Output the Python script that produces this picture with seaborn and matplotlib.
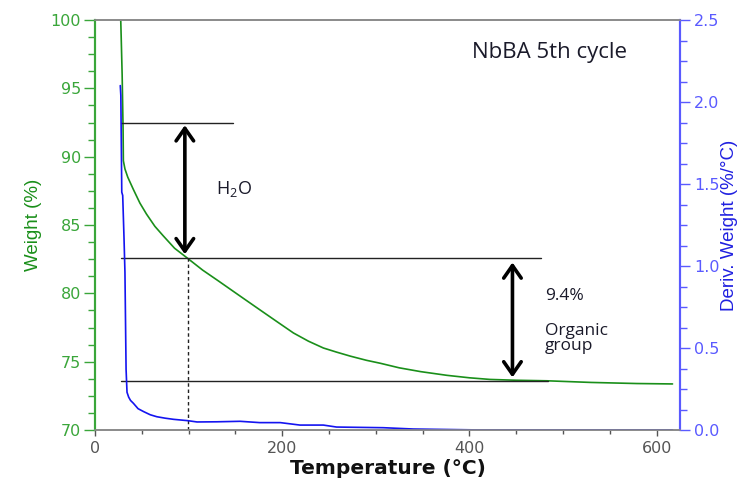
import matplotlib
matplotlib.use("Agg")
import matplotlib.pyplot as plt
from matplotlib.ticker import MultipleLocator, AutoMinorLocator, FormatStrFormatter
import seaborn as sns
import pandas as pd

# TGA curve: weight (%) vs temperature (°C)
temp_w = [27.5, 28.0, 29.0, 30.0, 30.3, 32, 35, 41, 48, 55, 64, 73, 85, 99,
          115, 132, 155, 176, 195, 212, 228, 244, 258, 273, 290, 305, 325,
          348, 376, 400, 422, 450, 483, 530, 579, 617]
weight = [100.0, 98.7, 96.0, 92.0, 89.7, 89.1, 88.5, 87.6, 86.6, 85.8, 84.9,
          84.2, 83.3, 82.56, 81.7, 80.9, 79.8, 78.8, 77.9, 77.1, 76.5, 76.0,
          75.7, 75.4, 75.1, 74.88, 74.55, 74.27, 74.0, 73.82, 73.7, 73.64,
          73.6, 73.48, 73.4, 73.37]

# DTG curve: derivative weight (%/°C) vs temperature (°C)
temp_d = [27.0, 27.6, 28.6, 29.6, 31.0, 32.0, 33.2, 34.2, 36, 38, 41, 46, 52,
          59, 66, 75, 84, 99, 109, 130, 155, 176, 198, 219, 244, 258, 308,
          340, 415, 500, 617]
deriv = [2.10, 2.04, 1.45, 1.43, 1.17, 0.96, 0.37, 0.23, 0.20, 0.18, 0.163,
         0.13, 0.112, 0.093, 0.081, 0.072, 0.065, 0.057, 0.049, 0.050, 0.053,
         0.045, 0.045, 0.030, 0.030, 0.018, 0.014, 0.006, 0.0, 0.0, 0.0]

# Step levels and annotations
level_top, level_mid, level_low = 92.5, 82.56, 73.6
mark_temp = 99
title_text = "NbBA 5th cycle"
water_text = r"H$_\mathregular{2}$O"
loss_text = "9.4%"
group_text = "Organic\ngroup"

df_w = pd.DataFrame({"T": temp_w, "W": weight})
df_d = pd.DataFrame({"T": temp_d, "D": deriv})

sns.set_theme(style="white")
plt.rcParams["font.family"] = ["DejaVu Sans"]

green = "#1a8f1a"
green_tick = "#3aa63a"
blue = "#1414f0"
blue_tick = "#5a5aff"
gray = "#8a8a8a"

fig = plt.figure(figsize=(7.41, 4.84), dpi=100)
ax = fig.add_axes([95 / 741, 54 / 484, 585 / 741, 410 / 484])
ax2 = ax.twinx()

sns.lineplot(data=df_w, x="T", y="W", ax=ax, color=green, lw=1.2,
             sort=False, estimator=None)
sns.lineplot(data=df_d, x="T", y="D", ax=ax2, color=blue, lw=1.2,
             sort=False, estimator=None)

ax.set_xlim(0, 625)
ax.set_ylim(70, 100)
ax2.set_ylim(0, 2.5)

# Ticks
ax.xaxis.set_major_locator(MultipleLocator(200))
ax.xaxis.set_minor_locator(MultipleLocator(50))
ax.yaxis.set_major_locator(MultipleLocator(5))
ax.yaxis.set_minor_locator(AutoMinorLocator(4))
ax2.yaxis.set_major_locator(MultipleLocator(0.5))
ax2.yaxis.set_minor_locator(AutoMinorLocator(4))
ax2.yaxis.set_major_formatter(FormatStrFormatter("%.1f"))

ax.tick_params(axis="x", which="both", direction="out", bottom=True,
               colors="#555555", labelsize=11.5, pad=4)
ax.tick_params(axis="x", which="major", length=4, width=1)
ax.tick_params(axis="x", which="minor", length=3, width=1)
ax.tick_params(axis="y", which="both", direction="out", left=True,
               color=green_tick, labelcolor=green_tick, labelsize=11.5, pad=2)
ax.tick_params(axis="y", which="major", length=8, width=1)
ax.tick_params(axis="y", which="minor", length=5, width=1)
ax2.tick_params(axis="y", which="both", direction="out", right=True,
                color=blue_tick, labelcolor=blue_tick, labelsize=11.5, pad=3)
ax2.tick_params(axis="y", which="major", length=7, width=1)
ax2.tick_params(axis="y", which="minor", length=5, width=1)

for a in (ax, ax2):
    a.spines["top"].set_color(gray)
    a.spines["bottom"].set_color(gray)
    a.spines["left"].set_color(green_tick)
    a.spines["right"].set_color(blue_tick)
    a.spines["left"].set_linewidth(1.5)
    a.spines["right"].set_linewidth(1.5)
    a.spines["top"].set_linewidth(1.2)
    a.spines["bottom"].set_linewidth(1.2)
ax.grid(False)
ax2.grid(False)

ax.set_xlabel("Temperature (°C)", fontsize=14.5, fontweight="bold",
              color="#111111", labelpad=2)
ax.set_ylabel("Weight (%)", fontsize=13.5, color=green,
              family=["Liberation Sans"], labelpad=6)
ax2.set_ylabel("Deriv. Weight (%/°C)", fontsize=13.5, color="#2020e0",
               family=["Liberation Sans"], labelpad=1)

# Step lines
line_kw = dict(color="#222222", lw=1.0, zorder=3)
ax.plot([28, 147], [level_top, level_top], **line_kw)
ax.plot([27.5, 477], [level_mid, level_mid], **line_kw)
ax.plot([28, 484], [level_low, level_low], **line_kw)
ax.plot([mark_temp, mark_temp], [70, level_mid], color="#222222", lw=1.0,
        ls=(0, (2.5, 2)), zorder=3)

# Double-headed arrows
arrow_kw = dict(arrowstyle="<->,head_length=0.5,head_width=0.35",
                color="black", lw=2.6, mutation_scale=18,
                shrinkA=0, shrinkB=0)
ax.annotate("", xy=(96, level_top - 0.2), xytext=(96, level_mid + 0.3),
            arrowprops=arrow_kw, zorder=4)
ax.annotate("", xy=(446, level_mid - 0.3), xytext=(446, level_low + 0.25),
            arrowprops=arrow_kw, zorder=4)

ann_font = ["Open Sans", "DejaVu Sans"]
ax.text(403, 97.6, title_text, fontsize=16, family=ann_font,
        color="#1a1a2a", ha="left", va="center")
ax.text(129, 87.6, water_text, fontsize=13, family=ann_font,
        color="#1a1a2a", ha="left", va="center")
ax.text(481, 79.8, loss_text, fontsize=12.5, family=ann_font,
        color="#1a1a2a", ha="left", va="center")
ax.text(481, 76.7, group_text, fontsize=12.5, family=ann_font,
        color="#1a1a2a", ha="left", va="center", linespacing=0.95)

fig.savefig("out.png", dpi=100, facecolor="white")
